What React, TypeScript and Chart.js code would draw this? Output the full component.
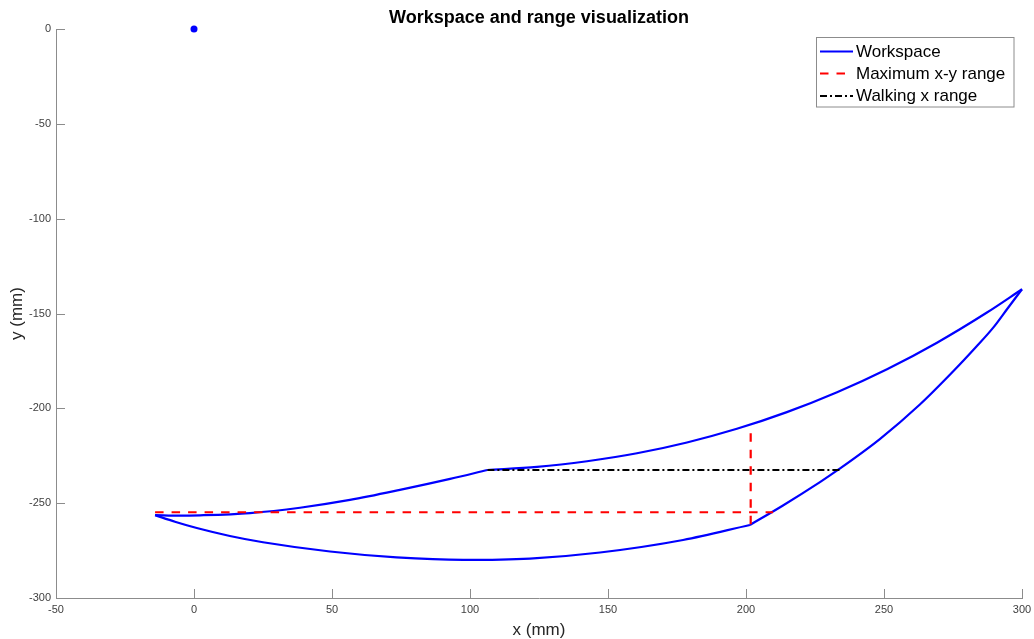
import React, { useEffect, useRef } from 'react';
import { Chart, registerables } from 'chart.js';

Chart.register(...registerables);

const FONT = "'Liberation Sans', Arial, Helvetica, sans-serif";
const AXIS_COLOR = '#8c8c8c';
const TEXT_COLOR = '#262626';

const chartTitle = 'Workspace and range visualization';
const xAxisTitle = 'x (mm)';
const yAxisTitle = 'y (mm)';
const legendLabels = ['Workspace', 'Maximum x-y range', 'Walking x range'];

const xTicks = [-50, 0, 50, 100, 150, 200, 250, 300];
const yTicks = [-300, -250, -200, -150, -100, -50, 0];

const originX = [0];
const originY = [0];

// Workspace boundary, split at its corners (x increasing in each piece)
const wsUpperLeftX = [-14.1, -5.1, 2.2, 20.3, 38.4, 56.5, 74.6, 92.8, 106.3];
const wsUpperLeftY = [-256.3, -256.6, -256.4, -255.2, -252.4, -248.3, -243.0, -237.2, -232.5];
const wsUpperRightX = [106.3, 124.3, 142.4, 160.5, 178.6, 196.7, 214.8, 233.0, 251.1, 269.2, 287.3, 300.0];
const wsUpperRightY = [-232.5, -230.9, -227.9, -223.7, -218.0, -210.8, -202.0, -191.5, -179.4, -165.4, -149.5, -137.2];
const wsLowerRightX = [201.4, 213.4, 226.8, 233.3, 248.6, 263.0, 275.0, 283.0, 289.5, 294.9, 300.0];
const wsLowerRightY = [-261.5, -251.2, -238.9, -232.5, -216.1, -198.0, -180.6, -168.2, -157.6, -147.1, -137.2];
const wsLowerLeftX = [-14.1, -6.9, 1.0, 13.0, 25.0, 49.3, 73.4, 97.5, 121.7, 147.1, 177.2, 201.4];
const wsLowerLeftY = [-256.3, -259.8, -263.1, -267.3, -270.6, -275.5, -278.6, -279.9, -279.2, -276.0, -269.4, -261.5];

const maxRangeHX = [-14.1, 209.8];
const maxRangeHY = [-254.8, -254.8];
const maxRangeVX = [201.7, 201.7];
const maxRangeVY = [-213.2, -261.5];

const walkX = [106.3, 234.7];
const walkY = [-232.5, -232.5];

const BLUE = '#0000ff';
const RED = '#ff0000';
const BLACK = '#000000';
const RED_DASH = [8.5, 8];
const BLACK_DASH = [7, 3, 2, 3];
const LINE_W = 2.2;

const pts = (xs: number[], ys: number[]) => xs.map((x, i) => ({ x, y: ys[i] }));

const lineDs = (xs: number[], ys: number[], color: string, dash: number[], smooth: boolean, order: number) => ({
  data: pts(xs, ys),
  showLine: true,
  borderColor: color,
  backgroundColor: color,
  borderWidth: LINE_W,
  borderDash: dash,
  pointRadius: 0,
  pointHoverRadius: 0,
  tension: smooth ? 0.4 : 0,
  cubicInterpolationMode: smooth ? 'monotone' : 'default',
  clip: false as any,
  order,
});

const decorPlugin = {
  id: 'decor',
  afterDraw(chart: any) {
    const { ctx, chartArea, scales } = chart;
    const xs = scales.x;
    const ys = scales.y;
    ctx.save();
    // inward tick marks
    ctx.strokeStyle = AXIS_COLOR;
    ctx.lineWidth = 1;
    ctx.setLineDash([]);
    ctx.beginPath();
    for (const v of xTicks) {
      const px = Math.round(xs.getPixelForValue(v)) + 0.5;
      ctx.moveTo(px, chartArea.bottom);
      ctx.lineTo(px, chartArea.bottom - 9);
    }
    for (const v of yTicks) {
      const py = Math.round(ys.getPixelForValue(v)) + 0.5;
      ctx.moveTo(chartArea.left, py);
      ctx.lineTo(chartArea.left + 9, py);
    }
    ctx.stroke();

    const cx = (chartArea.left + chartArea.right) / 2;
    const cy = (chartArea.top + chartArea.bottom) / 2;

    // title
    ctx.fillStyle = '#000';
    ctx.font = `bold 18px ${FONT}`;
    ctx.textAlign = 'center';
    ctx.textBaseline = 'middle';
    ctx.fillText(chartTitle, cx, 18);

    // axis titles
    ctx.fillStyle = TEXT_COLOR;
    ctx.font = `17px ${FONT}`;
    ctx.fillText(xAxisTitle, cx, 630);
    ctx.save();
    ctx.translate(17, cy);
    ctx.rotate(-Math.PI / 2);
    ctx.fillText(yAxisTitle, 0, 0);
    ctx.restore();

    // legend
    const bx = 816.5, by = 37.5, bw = 197.5, bh = 69.5;
    ctx.fillStyle = '#fff';
    ctx.fillRect(bx, by, bw, bh);
    ctx.strokeStyle = AXIS_COLOR;
    ctx.lineWidth = 1;
    ctx.strokeRect(bx, by, bw, bh);
    const styles = [
      { color: BLUE, dash: [] as number[] },
      { color: RED, dash: RED_DASH },
      { color: BLACK, dash: BLACK_DASH },
    ];
    const rowY = [51.5, 73.5, 96];
    ctx.font = `17px ${FONT}`;
    ctx.textAlign = 'left';
    ctx.textBaseline = 'middle';
    legendLabels.forEach((label, i) => {
      ctx.strokeStyle = styles[i].color;
      ctx.lineWidth = LINE_W;
      ctx.setLineDash(styles[i].dash);
      ctx.beginPath();
      ctx.moveTo(820, rowY[i]);
      ctx.lineTo(853, rowY[i]);
      ctx.stroke();
      ctx.setLineDash([]);
      ctx.fillStyle = '#000';
      ctx.fillText(label, 856, rowY[i] + 0.5);
    });
    ctx.restore();
  },
};

export default function App() {
  const ref = useRef<HTMLCanvasElement | null>(null);
  useEffect(() => {
    document.body.style.margin = '0';
    if (!ref.current) return;
    Chart.defaults.font.family = FONT;
    const chart = new Chart(ref.current, {
      type: 'scatter',
      data: {
        datasets: [
          lineDs(walkX, walkY, BLACK, BLACK_DASH, false, 0),
          lineDs(maxRangeHX, maxRangeHY, RED, RED_DASH, false, 1),
          lineDs(maxRangeVX, maxRangeVY, RED, RED_DASH, false, 1),
          lineDs(wsUpperLeftX, wsUpperLeftY, BLUE, [], true, 2),
          lineDs(wsUpperRightX, wsUpperRightY, BLUE, [], true, 2),
          lineDs(wsLowerRightX, wsLowerRightY, BLUE, [], true, 2),
          lineDs(wsLowerLeftX, wsLowerLeftY, BLUE, [], true, 2),
          {
            data: pts(originX, originY),
            showLine: false,
            pointRadius: 3.5,
            pointBackgroundColor: BLUE,
            pointBorderColor: BLUE,
            pointBorderWidth: 0,
            clip: false as any,
            order: 3,
          },
        ] as any,
      },
      options: {
        animation: false,
        responsive: false,
        devicePixelRatio: 1,
        events: [],
        layout: { padding: { top: 29, right: 12, left: 0, bottom: 0 } },
        plugins: {
          legend: { display: false },
          title: { display: false },
          tooltip: { enabled: false },
        },
        scales: {
          x: {
            type: 'linear',
            min: -50,
            max: 300,
            grid: { display: false, drawTicks: false },
            border: { display: true, color: AXIS_COLOR, width: 1 },
            afterBuildTicks: (scale: any) => {
              scale.ticks = xTicks.map((v) => ({ value: v }));
            },
            afterFit: (scale: any) => {
              scale.height = 41;
              scale.paddingLeft = 0;
              scale.paddingRight = 0;
            },
            ticks: {
              color: '#404040',
              font: { size: 11, family: FONT },
              padding: 5,
              maxRotation: 0,
              autoSkip: false,
            },
          },
          y: {
            type: 'linear',
            min: -300,
            max: 0,
            grid: { display: false, drawTicks: false },
            border: { display: true, color: AXIS_COLOR, width: 1 },
            afterBuildTicks: (scale: any) => {
              scale.ticks = yTicks.map((v) => ({ value: v }));
            },
            afterFit: (scale: any) => {
              scale.width = 56;
              scale.paddingTop = 0;
              scale.paddingBottom = 0;
            },
            ticks: {
              color: '#404040',
              font: { size: 11, family: FONT },
              padding: 5,
              autoSkip: false,
            },
          },
        },
      } as any,
      plugins: [decorPlugin],
    });
    return () => chart.destroy();
  }, []);
  return (
    <div style={{ position: 'absolute', left: 0, top: 0, width: 1034, height: 639 }}>
      <canvas ref={ref} width={1034} height={639} />
    </div>
  );
}
